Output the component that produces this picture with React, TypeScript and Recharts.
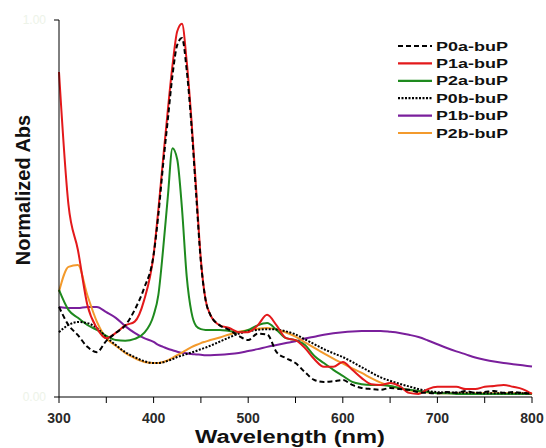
import React from 'react';
import { LineChart, Line, XAxis, YAxis, Legend, Label } from 'recharts';

// wavelength grid (nm), finer around the Soret band
const wavelengths = [
  300, 310, 320, 330, 340, 350, 360, 370, 380, 390, 400,
  405, 410, 415, 420, 425, 430, 435, 440, 445, 450, 455, 460,
  470, 480, 490, 500, 510, 520, 530, 540, 550, 560,
  570, 580, 590, 600, 610, 620, 630, 640, 650, 660,
  670, 680, 690, 700, 710, 720, 730, 740, 750, 760,
  770, 780, 790, 800,
];

const p0a = [
  0.239, 0.191, 0.164, 0.133, 0.119, 0.149, 0.17, 0.19, 0.231, 0.289, 0.377,
  0.483, 0.615, 0.735, 0.854, 0.934, 0.952, 0.867, 0.721, 0.536, 0.358, 0.257, 0.218,
  0.19, 0.178, 0.162, 0.151, 0.168, 0.166, 0.119, 0.103, 0.09, 0.066,
  0.045, 0.04, 0.042, 0.045, 0.032, 0.024, 0.021, 0.019, 0.024, 0.021,
  0.019, 0.013, 0.011, 0.01, 0.013, 0.011, 0.016, 0.011, 0.013, 0.016,
  0.011, 0.013, 0.011, 0.008,
];
const p1a = [
  0.862, 0.51, 0.39, 0.244, 0.183, 0.156, 0.17, 0.19, 0.2, 0.257, 0.377,
  0.496, 0.63, 0.76, 0.88, 0.97, 0.99, 0.89, 0.735, 0.55, 0.363, 0.257, 0.218,
  0.19, 0.183, 0.172, 0.172, 0.19, 0.218, 0.19, 0.156, 0.151, 0.13,
  0.1, 0.08, 0.08, 0.093, 0.072, 0.05, 0.034, 0.032, 0.037, 0.029,
  0.011, 0.008, 0.021, 0.027, 0.027, 0.027, 0.021, 0.021, 0.027, 0.029,
  0.032, 0.027, 0.021, 0.008,
];
const p2a = [
  0.284, 0.231, 0.21, 0.191, 0.178, 0.162, 0.151, 0.149, 0.154, 0.17, 0.217,
  0.27, 0.39, 0.53, 0.66, 0.63, 0.5, 0.32, 0.225, 0.188, 0.18, 0.178, 0.178,
  0.178, 0.175, 0.172, 0.178, 0.19, 0.196, 0.178, 0.156, 0.151, 0.138,
  0.109, 0.09, 0.072, 0.056, 0.04, 0.034, 0.032, 0.032, 0.029, 0.024,
  0.019, 0.016, 0.013, 0.01, 0.01, 0.008, 0.008, 0.008, 0.008, 0.008,
  0.008, 0.008, 0.008, 0.008,
];
const p0b = [
  0.172, 0.191, 0.199, 0.196, 0.183, 0.159, 0.138, 0.119, 0.106, 0.095, 0.09,
  0.09, 0.092, 0.096, 0.1, 0.106, 0.11, 0.114, 0.118, 0.122, 0.127, 0.131, 0.136,
  0.147, 0.158, 0.168, 0.174, 0.178, 0.18, 0.179, 0.174, 0.166, 0.153,
  0.14, 0.127, 0.116, 0.106, 0.093, 0.079, 0.065, 0.052, 0.043, 0.035,
  0.028, 0.021, 0.016, 0.013, 0.012, 0.012, 0.011, 0.011, 0.01, 0.01,
  0.01, 0.01, 0.01, 0.01,
];
const p1b = [
  0.239, 0.236, 0.236, 0.239, 0.239, 0.225, 0.21, 0.188, 0.17, 0.156, 0.146,
  0.138, 0.133, 0.128, 0.124, 0.12, 0.117, 0.116, 0.114, 0.113, 0.112, 0.111, 0.111,
  0.112, 0.114, 0.117, 0.122, 0.127, 0.133, 0.138, 0.143, 0.148, 0.155,
  0.16, 0.165, 0.169, 0.172, 0.174, 0.175, 0.175, 0.175, 0.173, 0.17,
  0.165, 0.159, 0.15, 0.14, 0.13, 0.121, 0.113, 0.105, 0.099, 0.094,
  0.09, 0.087, 0.084, 0.081,
];
const p2b = [
  0.279, 0.345, 0.35, 0.27, 0.2, 0.156, 0.136, 0.117, 0.103, 0.093, 0.09,
  0.09, 0.093, 0.097, 0.104, 0.111, 0.118, 0.125, 0.132, 0.138, 0.143, 0.147, 0.151,
  0.158, 0.166, 0.173, 0.177, 0.181, 0.183, 0.179, 0.171, 0.16, 0.145,
  0.13, 0.116, 0.102, 0.089, 0.076, 0.064, 0.05, 0.038, 0.029, 0.023,
  0.018, 0.014, 0.012, 0.01, 0.01, 0.01, 0.01, 0.01, 0.01, 0.01,
  0.01, 0.01, 0.01, 0.01,
];

const xTicks = [300, 350, 400, 450, 500, 550, 600, 650, 700, 750, 800];

const series = [
  { key: 'p0a', name: 'P0a-buP', color: '#000000', dash: '5 3' },
  { key: 'p1a', name: 'P1a-buP', color: '#e3191b', dash: undefined },
  { key: 'p2a', name: 'P2a-buP', color: '#1e8a1e', dash: undefined },
  { key: 'p0b', name: 'P0b-buP', color: '#000000', dash: '2 1.5' },
  { key: 'p1b', name: 'P1b-buP', color: '#7a1f9c', dash: undefined },
  { key: 'p2b', name: 'P2b-buP', color: '#f39a2c', dash: undefined },
];

const data = wavelengths.map((w, i) => ({
  w,
  p0a: p0a[i],
  p1a: p1a[i],
  p2a: p2a[i],
  p0b: p0b[i],
  p1b: p1b[i],
  p2b: p2b[i],
}));

const FONT = '"Liberation Sans", Arial, sans-serif';

function LegendBox() {
  return (
    <svg width={140} height={110}>
      {series.map((s, i) => {
        const y = 8 + i * 17.4;
        return (
          <g key={s.key}>
            <line x1={2} x2={36} y1={y} y2={y} stroke={s.color} strokeWidth={2.2} strokeDasharray={s.dash} />
            <text x={40} y={y} dominantBaseline="central" fontFamily={FONT} fontWeight="bold" fontSize={13}
              fill="#111" textLength={72} lengthAdjust="spacingAndGlyphs">{s.name}</text>
          </g>
        );
      })}
    </svg>
  );
}

export default function App() {
  return (
    <div style={{ position: 'absolute', left: 0, top: 0, background: '#fff' }}>
      <LineChart width={546} height={448} data={data} margin={{ top: 20, right: 14, left: 0, bottom: 0 }}>
        <XAxis
          dataKey="w"
          type="number"
          domain={[300, 800]}
          ticks={xTicks}
          tickSize={6}
          tickMargin={10}
          height={51}
          stroke="#000"
          tickFormatter={(v: number) => (v % 100 === 0 ? String(v) : '')}
          tick={{ fontSize: 14, fontWeight: 'bold', fill: '#2a2a2a', fontFamily: FONT }}
        >
          <Label
            content={() => (
              <text x={290} y={443} textAnchor="middle" fontFamily={FONT} fontWeight="bold" fontSize={18}
                fill="#111" textLength={190} lengthAdjust="spacingAndGlyphs">Wavelength (nm)</text>
            )}
          />
        </XAxis>
        <YAxis
          type="number"
          domain={[0, 1]}
          ticks={[0, 1]}
          width={59}
          tickSize={5}
          tickMargin={8}
          stroke="#000"
          tickFormatter={(v: number) => v.toFixed(2)}
          tick={{ fontSize: 12, fill: '#edf3e8', fontFamily: FONT }}
        >
          <Label
            content={() => (
              <text x={30} y={190} transform="rotate(-90 30 190)" textAnchor="middle" fontFamily={FONT}
                fontWeight="bold" fontSize={20} fill="#111">Normalized Abs</text>
            )}
          />
        </YAxis>
        <Legend
          layout="horizontal"
          verticalAlign="middle"
          align="center"
          wrapperStyle={{ left: 396, top: 38, width: 140, height: 110 }}
          content={() => <LegendBox />}
        />
        {['p1b', 'p2b', 'p2a', 'p0b', 'p1a', 'p0a'].map((k) => {
          const s = series.find((x) => x.key === k)!;
          return (
            <Line
              key={k}
              type="monotone"
              dataKey={k}
              name={s.name}
              stroke={s.color}
              strokeWidth={2}
              strokeDasharray={s.dash}
              dot={false}
              isAnimationActive={false}
            />
          );
        })}
      </LineChart>
    </div>
  );
}
